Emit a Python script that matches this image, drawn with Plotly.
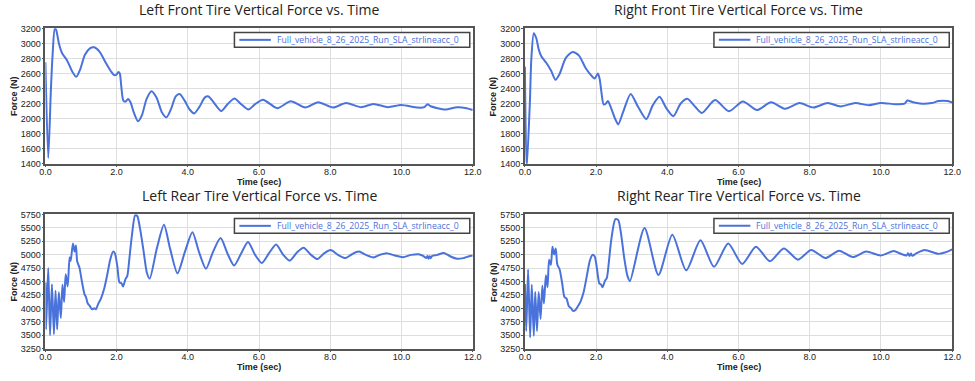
import plotly.graph_objects as go

# ---------------- data ----------------
t_lf = [0.00, 0.08, 0.155, 0.20, 0.265, 0.30, 0.38, 0.47, 0.61, 0.75, 0.87, 0.975, 1.11, 1.25, 1.37,
        1.52, 1.70, 1.84, 1.93, 2.00, 2.05, 2.09, 2.13, 2.19, 2.25, 2.32, 2.39, 2.48, 2.60, 2.71,
        2.84, 2.98, 3.12, 3.27, 3.40, 3.53, 3.66, 3.77, 3.91, 4.05, 4.18, 4.32, 4.48, 4.58, 4.71,
        4.94, 5.12, 5.31, 5.49, 5.70, 5.90, 6.11, 6.51, 6.89, 7.30, 7.66, 8.08, 8.44, 8.87, 9.21,
        9.62, 9.99, 10.45, 10.64, 10.73, 10.82, 11.23, 11.56, 11.83, 12.0]
f_lf = [2750, 1475, 2390, 2826, 3196, 3183, 3000, 2869, 2774, 2630, 2556, 2652, 2848, 2935, 2948,
        2891, 2739, 2630, 2578, 2587, 2621, 2600, 2434, 2239, 2226, 2260, 2217, 2086, 1965, 2043,
        2260, 2365, 2282, 2086, 2017, 2130, 2295, 2326, 2239, 2121, 2069, 2152, 2282, 2295, 2226,
        2100, 2195, 2269, 2195, 2121, 2195, 2252, 2139, 2230, 2147, 2217, 2147, 2208, 2152, 2195,
        2152, 2182, 2147, 2152, 2191, 2165, 2121, 2152, 2139, 2115]

t_rf = [0.00, 0.05, 0.14, 0.18, 0.25, 0.32, 0.39, 0.46, 0.60, 0.74, 0.86, 0.97, 1.15, 1.34, 1.52,
        1.70, 1.89, 1.96, 2.05, 2.10, 2.15, 2.21, 2.27, 2.33, 2.41, 2.53, 2.62, 2.76, 2.97, 3.18,
        3.41, 3.59, 3.78, 3.98, 4.17, 4.37, 4.56, 4.79, 4.97, 5.34, 5.73, 6.12, 6.52, 6.91, 7.31,
        7.71, 8.10, 8.50, 8.87, 9.28, 9.66, 10.0, 10.40, 10.66, 10.74, 10.90, 11.15, 11.42, 11.62,
        11.87, 12.0]
f_rf = [2690, 1330, 2220, 2786, 3135, 3069, 2917, 2830, 2742, 2633, 2516, 2590, 2808, 2886, 2838,
        2677, 2559, 2533, 2599, 2525, 2350, 2189, 2198, 2233, 2154, 2002, 1923, 2089, 2328, 2154,
        1993, 2176, 2289, 2132, 2032, 2198, 2263, 2154, 2076, 2246, 2097, 2228, 2113, 2218, 2130,
        2206, 2148, 2206, 2162, 2208, 2178, 2208, 2192, 2198, 2240, 2218, 2198, 2206, 2233,
        2233, 2215]

t_lr = [0.00, 0.018, 0.08, 0.13, 0.184, 0.24, 0.285, 0.33, 0.378, 0.433, 0.479, 0.525, 0.571, 0.626,
        0.68, 0.709, 0.774, 0.82, 0.857, 0.893, 0.958, 1.03, 1.10, 1.14, 1.19, 1.25, 1.31, 1.37,
        1.42, 1.48, 1.56, 1.65, 1.74, 1.82, 1.90, 1.95, 2.02, 2.08, 2.14, 2.18, 2.25, 2.30, 2.36,
        2.43, 2.52, 2.58, 2.66, 2.75, 2.85, 2.93, 3.13, 3.33, 3.50, 3.71, 3.92, 4.13, 4.31, 4.51,
        4.71, 4.92, 5.11, 5.30, 5.50, 5.69, 5.89, 6.08, 6.28, 6.48, 6.68, 6.86, 7.07, 7.25, 7.46,
        7.64, 7.83, 8.01, 8.22, 8.43, 8.61, 8.80, 9.00, 9.21, 9.39, 9.58, 9.81, 10.04, 10.27, 10.48,
        10.59, 10.70, 10.73, 10.76, 10.79, 10.82, 10.86, 11.00, 11.19, 11.38, 11.56, 11.74, 11.88, 12.0]
f_lr = [4480, 3610, 4750, 3500, 4450, 3520, 4330, 3610, 4300, 3820, 4440, 4120, 4635, 4410,
        4950, 4880, 5208, 5057, 5172, 4877, 4756, 4484, 4262, 4212, 4092, 4044, 3984, 4002,
        3984, 4081, 4183, 4364, 4635, 4906, 5057, 5027, 4786, 4484, 4466, 4407, 4545, 4605, 4936,
        5358, 5732, 5720, 5479, 5100, 4665, 4555, 5117, 5557, 5117, 4653, 5057, 5418, 5057, 4738,
        5057, 5310, 5027, 4798, 5027, 5238, 4996, 4846, 5027, 5190, 4996, 4888, 5045, 5130, 4996,
        4918, 5027, 5087, 4996, 4936, 5008, 5057, 4996, 4948, 4996, 5027, 4984, 4954, 4996, 5008,
        4984, 4940, 4975, 4925, 4970, 4935, 4975, 4996, 5033, 4966, 4924, 4936, 4966, 4984]

t_rr = [0.00, 0.037, 0.09, 0.147, 0.193, 0.25, 0.29, 0.34, 0.387, 0.44, 0.49, 0.534, 0.59, 0.636,
        0.68, 0.73, 0.774, 0.82, 0.866, 0.91, 0.976, 1.05, 1.11, 1.17, 1.23, 1.30, 1.35, 1.42,
        1.48, 1.56, 1.65, 1.74, 1.82, 1.90, 1.96, 2.02, 2.09, 2.14, 2.18, 2.25, 2.30, 2.36, 2.43,
        2.54, 2.62, 2.70, 2.79, 2.88, 2.95, 3.36, 3.75, 4.14, 4.53, 4.93, 5.31, 5.71, 6.10, 6.49,
        6.88, 7.27, 7.67, 8.04, 8.44, 8.82, 9.21, 9.58, 9.99, 10.36, 10.54, 10.72, 10.76, 10.80,
        10.84, 10.88, 11.00, 11.23, 11.60, 11.79, 12.0]
f_rr = [4455, 3580, 4725, 3460, 4442, 3490, 4304, 3580, 4304, 3803, 4424, 4092, 4617, 4394,
        4906, 4810, 5148, 5003, 5117, 4816, 4725, 4454, 4213, 4183, 4045, 4002, 3954, 3972,
        4032, 4123, 4304, 4605, 4877, 4996, 4966, 4756, 4466, 4442, 4394, 4515, 4563, 4877, 5298,
        5660, 5648, 5388, 4936, 4605, 4510, 5497, 4623, 5370, 4708, 5268, 4774, 5208, 4828, 5148,
        4877, 5117, 4907, 5087, 4937, 5075, 4955, 5057, 4985, 5069, 5021, 4985, 5025, 4975,
        5020, 4980, 5027, 5087, 5015, 5039, 5099]

titles = ["Left Front Tire Vertical Force vs. Time", "Right Front Tire Vertical Force vs. Time",
          "Left Rear Tire Vertical Force vs. Time", "Right Rear Tire Vertical Force vs. Time"]
series_name = "Full_vehicle_8_26_2025_Run_SLA_strlineacc_0"
x_ticks = [0, 2, 4, 6, 8, 10, 12]
y_ticks_front = [1400, 1600, 1800, 2000, 2200, 2400, 2600, 2800, 3000, 3200]
y_ticks_rear = [3250, 3500, 3750, 4000, 4250, 4500, 4750, 5000, 5250, 5500, 5750]
x_title = "Time (sec)"
y_title = "Force (N)"

# ---------------- layout geometry ----------------
W, H = 975, 381
LINE = "#4a72dc"
cols_px = [(40, 474), (527, 961)]
rows_px = [(24, 163), (215, 353)]

fig = go.Figure()
data = [(t_lf, f_lf), (t_rf, f_rf), (t_lr, f_lr), (t_rr, f_rr)]
annotations = []
shapes = []
for i, (tt, ff) in enumerate(data):
    r, c = divmod(i, 2)
    n = "" if i == 0 else str(i + 1)
    x0, x1 = cols_px[c]
    y0, y1 = rows_px[r]
    fig.add_trace(go.Scatter(
        x=tt, y=ff, mode="lines", name=series_name,
        line=dict(color=LINE, width=2, shape="spline", smoothing=0.7),
        xaxis="x" + n, yaxis="y" + n, showlegend=False))
    axis_common = dict(showline=True, linecolor="#555555", linewidth=1.5, mirror=True,
                       showgrid=True, gridcolor="#dedede", gridwidth=1,
                       ticks="outside", ticklen=2, tickcolor="#555555", zeroline=False,
                       tickfont=dict(family="Liberation Sans, Arial", size=9, color="#222222"))
    fig.layout["xaxis" + n] = dict(domain=[x0 / W, x1 / W], anchor="y" + n, range=[0, 12],
                                   tickvals=x_ticks, tickformat=".1f", ticklabelstandoff=-3,
                                   **axis_common)
    yt = y_ticks_front if r == 0 else y_ticks_rear
    fig.layout["yaxis" + n] = dict(domain=[1 - y1 / H, 1 - y0 / H], anchor="x" + n,
                                   range=[yt[0], yt[-1]], tickvals=yt, ticklabelstandoff=-1,
                                   **axis_common)
    # legend box (drawn in paper coordinates, top-right of each panel)
    shapes.append(dict(type="rect", xref="paper", yref="paper", layer="above",
                       x0=(x1 - 242) / W, x1=(x1 - 3) / W, y0=1 - (y0 + 19.3) / H, y1=1 - (y0 + 4.3) / H,
                       line=dict(color="#444444", width=1.5), fillcolor="white"))
    shapes.append(dict(type="line", xref="paper", yref="paper", layer="above",
                       x0=(x1 - 237) / W, x1=(x1 - 205) / W, y0=1 - (y0 + 11.8) / H, y1=1 - (y0 + 11.8) / H,
                       line=dict(color=LINE, width=2)))
    annotations.append(dict(text=series_name, x=(x1 - 201) / W, y=1 - (y0 + 11.8) / H,
                            xref="paper", yref="paper", xanchor="left", yanchor="middle",
                            showarrow=False,
                            font=dict(family="Open Sans", size=8.7, color=LINE)))
    cx = (x0 + x1) / 2 / W
    annotations.append(dict(text=titles[i], x=cx, y=1 - (y0 - 19) / H, xref="paper", yref="paper",
                            xanchor="center", yanchor="middle", showarrow=False,
                            font=dict(family="Open Sans", size=14, color="#222222")))
    annotations.append(dict(text="<b>" + x_title + "</b>", x=cx, y=1 - (y1 + 19) / H,
                            xref="paper", yref="paper", xanchor="center", yanchor="middle",
                            showarrow=False,
                            font=dict(family="Liberation Sans, Arial", size=9, color="#222222")))
    annotations.append(dict(text="<b>" + y_title + "</b>", x=(x0 - 32) / W, y=1 - (y0 + y1) / 2 / H,
                            xref="paper", yref="paper", xanchor="center", yanchor="middle",
                            textangle=-90, showarrow=False,
                            font=dict(family="Liberation Sans, Arial", size=9, color="#222222")))

fig.update_layout(width=W, height=H, margin=dict(l=0, r=0, t=0, b=0),
                  paper_bgcolor="white", plot_bgcolor="white",
                  annotations=annotations, shapes=shapes, showlegend=False)

fig.write_html("out.html", config={"displayModeBar": False},
               post_script="document.body.style.margin='0';")
